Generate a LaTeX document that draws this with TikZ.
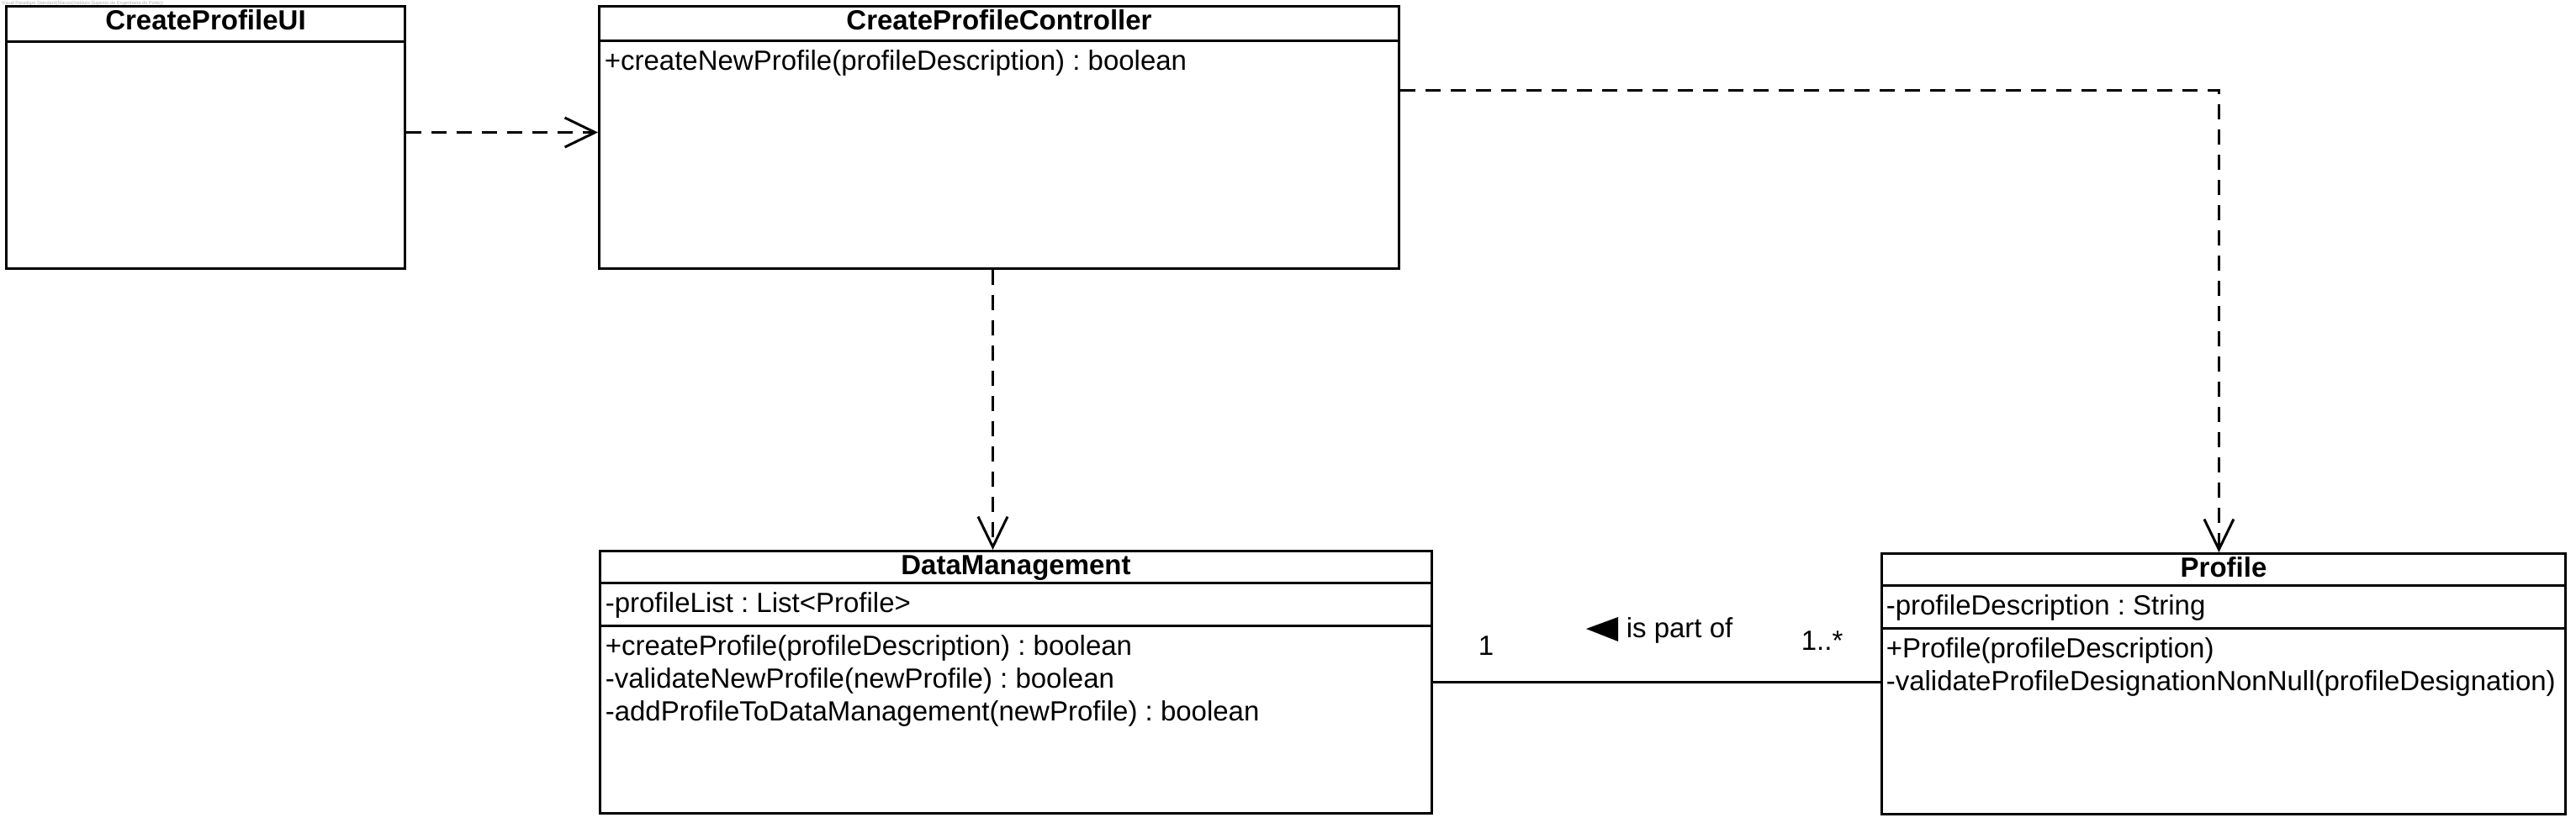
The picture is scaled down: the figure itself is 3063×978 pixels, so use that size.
\documentclass[tikz,border=0pt]{standalone}
\usepackage{fontspec}
\setmainfont{Liberation Sans}
\usepackage{tikz}
\usetikzlibrary{arrows.meta}
\frenchspacing

\begin{document}
\begin{tikzpicture}[x=0.25pt,y=-0.25pt,
  cls/.style={draw,line width=0.75pt,rectangle,anchor=north west,inner sep=0pt,minimum height=78pt},
  hd/.style={anchor=base,inner sep=0pt,font=\bfseries\fontsize{8.25}{9}\selectfont},
  mb/.style={anchor=base west,inner sep=0pt,font=\fontsize{8.25}{9}\selectfont},
  dep/.style={line width=0.75pt,dash pattern=on 4.5pt off 3pt,-{Straight Barb[length=9pt,width=8.75pt]}}]
\useasboundingbox (0,0) rectangle (3063,978);
\node[anchor=north west,inner sep=0pt,text=gray!60,font=\fontsize{1.4}{1.6}\selectfont] (wm) at (1,1) {Visual Paradigm Standard(Marcio(Instituto Superior de Engenharia do Porto))};
\node[cls,minimum width=118.5pt] (ui) at (6,6) {};
\node[cls,minimum width=237.75pt] (ctrl) at (711,6) {};
\node[cls,minimum width=247.25pt] (dm) at (712,654) {};
\node[cls,minimum width=203.25pt,minimum height=77.5pt] (prof) at (2236,657) {};
\draw[line width=0.75pt] (6,49) -- (480,49);
\draw[line width=0.75pt] (711,48) -- (1662,48);
\draw[line width=0.75pt] (712,693) -- (1701,693);
\draw[line width=0.75pt] (712,744) -- (1701,744);
\draw[line width=0.75pt] (2236,696) -- (3049,696);
\draw[line width=0.75pt] (2236,747) -- (3049,747);
\node[hd] (uiname) at ([yshift=-7.25pt]ui.north) {CreateProfileUI};
\node[hd] (ctrlname) at ([yshift=-7.25pt]ctrl.north) {CreateProfileController};
\node[hd] (dmname) at ([yshift=-7.25pt]dm.north) {DataManagement};
\node[hd] (profname) at ([yshift=-7.25pt]prof.north) {Profile};
\node[mb] (c1) at (718,83) {+createNewProfile(profileDescription) : boolean};
\node[mb] (d0) at (719,728) {-profileList : List<Profile>};
\node[mb] (d1) at (719,779) {+createProfile(profileDescription) : boolean};
\node[mb] (d2) at (719,818) {-validateNewProfile(newProfile) : boolean};
\node[mb] (d3) at (719,857) {-addProfileToDataManagement(newProfile) : boolean};
\node[mb] (p0) at (2242,731) {-profileDescription : String};
\node[mb] (p1) at (2242,782) {+Profile(profileDescription)};
\node[mb] (p2) at (2242,821) {-validateProfileDesignationNonNull(profileDesignation)};
\draw[dep] ([yshift=1.5pt]ui.east) -- ([yshift=1.5pt]ctrl.west);
\draw[dep] ([xshift=-1.875pt]ctrl.south) -- ([xshift=-1.875pt]ctrl.south |- dm.north);
\draw[dep] ([yshift=14pt]ctrl.east) -| ([xshift=-1.4pt]prof.north);
\draw[line width=0.75pt] (dm.east) -- (prof.west |- dm.east);
\node[mb] (m1) at (1757,779) {1};
\node[mb] (m2) at (2141,773) {1..*};
\node[mb] (rel) at (1933,758) {is part of};
\fill (1886,748) -- (1924,734) -- (1924,763) -- cycle;
\end{tikzpicture}
\end{document}
